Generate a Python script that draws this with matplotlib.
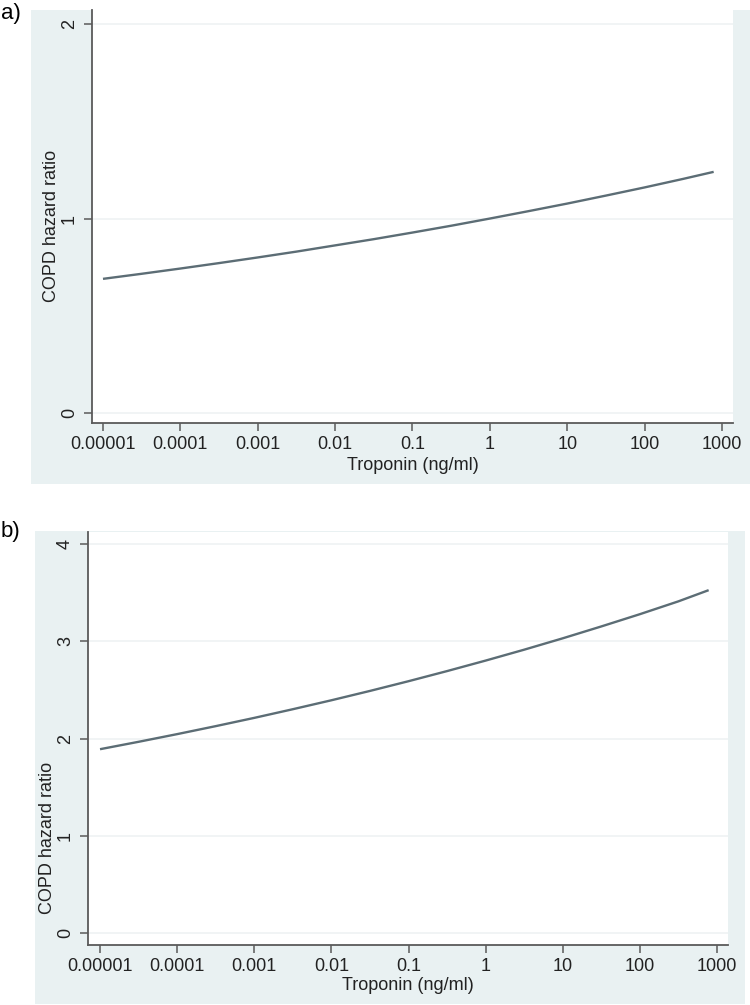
import matplotlib
matplotlib.use("Agg")
import matplotlib.pyplot as plt
from matplotlib.patches import Rectangle

plt.rcParams['font.family'] = ['Liberation Sans', 'DejaVu Sans']

# ---- data ----
troponin = [0.00001, 0.0000316, 0.0001, 0.000316, 0.001, 0.00316, 0.01, 0.0316,
            0.1, 0.316, 1, 3.16, 10, 31.6, 100, 316, 780]
hr_a = [0.690, 0.716, 0.743, 0.771, 0.800, 0.830, 0.862, 0.894,
        0.928, 0.963, 1.000, 1.038, 1.077, 1.118, 1.160, 1.204, 1.240]
hr_b = [1.890, 1.966, 2.045, 2.127, 2.212, 2.301, 2.393, 2.489,
        2.589, 2.693, 2.801, 2.913, 3.030, 3.152, 3.278, 3.410, 3.525]
xticks = [1e-5, 1e-4, 1e-3, 1e-2, 1e-1, 1, 10, 100, 1000]
xticklabels = ["0.00001", "0.0001", "0.001", "0.01", "0.1", "1", "10", "100", "1000"]
yticks_a = [0, 1, 2]
yticks_b = [0, 1, 2, 3, 4]
panel_labels = ["a)", "b)"]
xlabel = "Troponin (ng/ml)"
ylabel = "COPD hazard ratio"

W, H = 750, 1005
fig = plt.figure(figsize=(W / 100, H / 100), dpi=100)
BG = "#E9F1F2"
LINE = "#5C6D75"
AX = "#5a5a5a"
GRID = "#EDF1F2"
FS = 13.0


def fx(px):
    return px / W


def fy(py):
    return 1 - py / H


def panel(bg, axbox, x, y, yticks, ylim, xlim, lab, labpos, ylab_pos, xlab_y):
    bx0, by0, bx1, by1 = bg
    fig.patches.append(Rectangle((fx(bx0), fy(by1)), fx(bx1) - fx(bx0), fy(by0) - fy(by1),
                                 transform=fig.transFigure, facecolor=BG, edgecolor="none", zorder=-10))
    l, t, r, b = axbox
    ax = fig.add_axes([fx(l), fy(b), fx(r) - fx(l), fy(t) - fy(b)])
    ax.set_zorder(1)
    ax.set_facecolor("white")
    ax.plot(x, y, color=LINE, lw=1.7, solid_capstyle="butt")
    ax.set_xscale("log")
    ax.set_xlim(*xlim)
    ax.set_ylim(*ylim)
    ax.set_xticks(xticks)
    ax.set_xticklabels(xticklabels)
    ax.minorticks_off()
    ax.set_yticks(yticks)
    ax.set_yticklabels([str(v) for v in yticks], rotation=90, va="center")
    ax.grid(axis="y", color=GRID, lw=1.1)
    ax.set_axisbelow(True)
    for s in ["top", "right"]:
        ax.spines[s].set_visible(False)
    for s in ["left", "bottom"]:
        ax.spines[s].set_color(AX)
        ax.spines[s].set_linewidth(1.3)
    ax.tick_params(axis="both", colors=AX, length=6, width=1.1, labelsize=FS,
                   labelcolor="#222222", pad=3)
    ax.tick_params(axis="y", pad=4)
    fig.text(fx(ylab_pos[0]), fy(ylab_pos[1]), ylabel, rotation=90, ha="center", va="center",
             fontsize=FS, color="#222222", zorder=2)
    fig.text(fx((l + r) / 2), fy(xlab_y), xlabel, ha="center", va="center",
             fontsize=FS, color="#222222", zorder=2)
    fig.text(fx(labpos[0]), fy(labpos[1]), lab, ha="left", va="center", fontsize=16,
             color="black", zorder=2)
    return ax


panel(bg=(31, 10, 750, 484), axbox=(92, 10, 733, 423), x=troponin, y=hr_a,
      yticks=yticks_a, ylim=(-0.051, 2.072), xlim=(10 ** -5.142, 10 ** 3.142),
      lab=panel_labels[0], labpos=(1, 14), ylab_pos=(52, 226), xlab_y=465)

panel(bg=(35, 531, 745, 1004), axbox=(88, 532, 728, 945), x=troponin, y=hr_b,
      yticks=yticks_b, ylim=(-0.123, 4.123), xlim=(10 ** -5.156, 10 ** 3.143),
      lab=panel_labels[1], labpos=(1, 531), ylab_pos=(48, 838), xlab_y=985)

fig.savefig("out.png", dpi=100)
